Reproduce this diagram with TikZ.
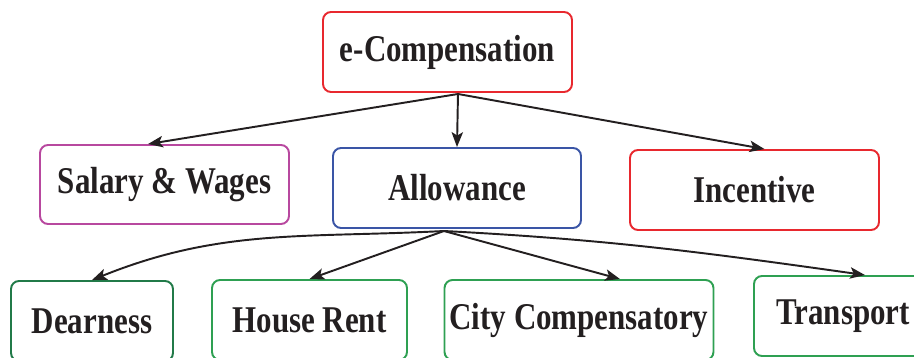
\documentclass[tikz,border=0pt]{standalone}
\usepackage{fontspec}
\setmainfont{Liberation Serif}[FakeStretch=0.82]
\usetikzlibrary{positioning,arrows.meta}
\definecolor{boxred}{HTML}{E8282E}
\definecolor{boxpink}{HTML}{B8489F}
\definecolor{boxblue}{HTML}{3A55A6}
\definecolor{boxgreen}{HTML}{2EA052}
\definecolor{boxdkgreen}{HTML}{217A48}
\definecolor{ink}{HTML}{231F20}

\begin{document}
\begin{tikzpicture}[
  x=0.02cm, y=0.02cm,
  box/.style={draw, line width=1.1pt, rounded corners=0.16cm, align=center, text=ink,
    minimum height=1.6cm, inner sep=0pt, font=\bfseries\fontsize{21.5}{25}\selectfont},
  arrow/.style={-{Stealth[length=8.5pt,width=6.5pt,inset=2pt]}, line width=1.1pt, draw=ink}
]
\useasboundingbox (0,0) rectangle (914,-358);
\node[box,draw=boxred,minimum width=4.98cm](ecomp) at (447.5,-52){e-Compensation};
\node[box,draw=boxpink,minimum width=4.98cm,minimum height=1.58cm](salary) at (164.5,-184.5){Salary \& Wages};
\node[box,draw=boxblue,minimum width=4.96cm](allow) at (457,-188){Allowance};
\node[box,draw=boxred,minimum width=4.98cm](incent) at (754.5,-190){Incentive};
\node[box,draw=boxdkgreen,minimum width=3.24cm](dear) at (92,-321){Dearness};
\node[box,draw=boxgreen,minimum width=3.9cm](rent) at (309.5,-320){House Rent};
\node[box,draw=boxgreen,minimum width=5.38cm](city) at (579,-320){City Compensatory};
\node[box,draw=boxgreen,minimum width=3.56cm](trans) at (843,-316){Transport};
% hubs where the connectors leave
\coordinate (ecHub) at (458,-94);
\coordinate (alHub) at (444,-231);
\draw[arrow] (ecHub) -- ([xshift=-0.33cm]salary.north);
\draw[arrow] (ecHub) -- (allow.north);
\draw[arrow] (ecHub) -- ([xshift=0.2cm]incent.north);
\draw[arrow] (alHub) to[out=183,in=22] (dear.north);
\draw[arrow] (alHub) -- (rent.north);
\draw[arrow] (alHub) -- ([xshift=0.82cm]city.north);
\draw[arrow] (alHub) to[out=-3,in=172] ([xshift=0.44cm]trans.north);
\end{tikzpicture}
\end{document}
